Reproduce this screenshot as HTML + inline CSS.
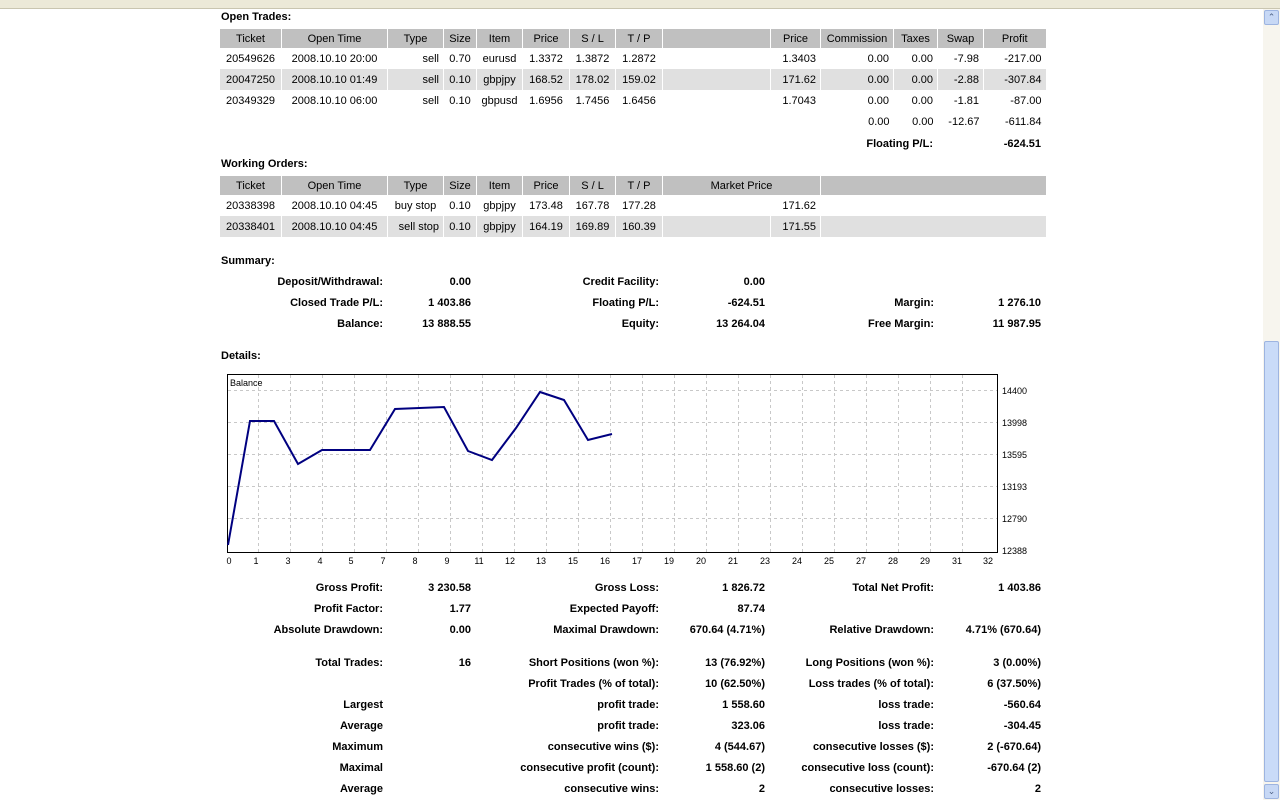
<!DOCTYPE html>
<html><head><meta charset="utf-8"><style>
body{margin:0;width:1280px;height:800px;background:#fff;font-family:"Liberation Sans",sans-serif;font-size:11px;color:#000;position:relative;overflow:hidden}
.topbar{position:absolute;left:0;top:0;width:1280px;height:8px;background:#ece9d8;border-bottom:1px solid #c9c5b0}
.sb{position:absolute;left:1263px;top:9px;width:17px;height:791px;background:#f7f5ee}
.btn{position:absolute;left:1264px;width:15px;height:15px;background:#c7d8f5;border:1px solid #9db4e0;border-radius:2px;box-sizing:border-box;color:#4d6185;font-size:9px;text-align:center;line-height:13px}
.thumb{position:absolute;left:1264px;top:341px;width:15px;height:441px;background:#c9dbf8;border:1px solid #9db4e0;box-sizing:border-box;border-radius:2px}
.w{position:absolute;left:0;top:1px;width:1280px;height:799px}
h4{position:absolute;margin:0;font-size:11px;font-weight:bold;left:221px}
table{position:absolute;left:219px;border-collapse:collapse;table-layout:fixed;font-size:11px}
td{padding:0 4px;height:21px;border-left:1px solid #fff;white-space:nowrap;overflow:hidden;padding-top:1px;box-sizing:border-box}
tr.h td{background:#c0c0c0;height:19px;text-align:center;border-left:1px solid #fff}
tr.g td{background:#e0e0e0}
.r{text-align:right}.c{text-align:center}
.s{position:absolute;font-weight:bold;white-space:nowrap;text-align:right}
</style></head><body>
<div class="topbar"></div>
<div class="w">
<h4 style="top:10px">Open Trades:</h4>
<table style="top:28px">
<colgroup><col style="width:62px"><col style="width:106px"><col style="width:56px"><col style="width:33px"><col style="width:46px"><col style="width:47px"><col style="width:46px"><col style="width:47px"><col style="width:108px"><col style="width:50px"><col style="width:73px"><col style="width:44px"><col style="width:46px"><col style="width:62px"></colgroup>
<tr class="h"><td>Ticket</td><td>Open Time</td><td>Type</td><td>Size</td><td>Item</td><td>Price</td><td>S / L</td><td>T / P</td><td></td><td>Price</td><td>Commission</td><td>Taxes</td><td>Swap</td><td>Profit</td></tr>
<tr><td class="c">20549626</td><td class="c">2008.10.10 20:00</td><td class="r">sell</td><td class="c">0.70</td><td class="c">eurusd</td><td class="c">1.3372</td><td class="c">1.3872</td><td class="c">1.2872</td><td></td><td class="r">1.3403</td><td class="r">0.00</td><td class="r">0.00</td><td class="r">-7.98</td><td class="r">-217.00</td></tr>
<tr class="g"><td class="c">20047250</td><td class="c">2008.10.10 01:49</td><td class="r">sell</td><td class="c">0.10</td><td class="c">gbpjpy</td><td class="c">168.52</td><td class="c">178.02</td><td class="c">159.02</td><td></td><td class="r">171.62</td><td class="r">0.00</td><td class="r">0.00</td><td class="r">-2.88</td><td class="r">-307.84</td></tr>
<tr><td class="c">20349329</td><td class="c">2008.10.10 06:00</td><td class="r">sell</td><td class="c">0.10</td><td class="c">gbpusd</td><td class="c">1.6956</td><td class="c">1.7456</td><td class="c">1.6456</td><td></td><td class="r">1.7043</td><td class="r">0.00</td><td class="r">0.00</td><td class="r">-1.81</td><td class="r">-87.00</td></tr>
<tr><td style="border:0"></td><td style="border:0"></td><td style="border:0"></td><td style="border:0"></td><td style="border:0"></td><td style="border:0"></td><td style="border:0"></td><td style="border:0"></td><td style="border:0"></td><td style="border:0"></td><td class="r" style="border:0">0.00</td><td class="r" style="border:0">0.00</td><td class="r" style="border:0">-12.67</td><td class="r" style="border:0">-611.84</td></tr>
</table>
<div class="s" style="right:347px;top:137px">Floating P/L:</div>
<div class="s" style="right:239px;top:137px">-624.51</div>

<h4 style="top:157px">Working Orders:</h4>
<table style="top:175px">
<colgroup><col style="width:62px"><col style="width:106px"><col style="width:56px"><col style="width:33px"><col style="width:46px"><col style="width:47px"><col style="width:46px"><col style="width:47px"><col style="width:108px"><col style="width:50px"><col style="width:225px"></colgroup>
<tr class="h"><td>Ticket</td><td>Open Time</td><td>Type</td><td>Size</td><td>Item</td><td>Price</td><td>S / L</td><td>T / P</td><td colspan="2">Market Price</td><td></td></tr>
<tr><td class="c">20338398</td><td class="c">2008.10.10 04:45</td><td class="c">buy stop</td><td class="c">0.10</td><td class="c">gbpjpy</td><td class="c">173.48</td><td class="c">167.78</td><td class="c">177.28</td><td></td><td class="r">171.62</td><td></td></tr>
<tr class="g"><td class="c">20338401</td><td class="c">2008.10.10 04:45</td><td class="r">sell stop</td><td class="c">0.10</td><td class="c">gbpjpy</td><td class="c">164.19</td><td class="c">169.89</td><td class="c">160.39</td><td></td><td class="r">171.55</td><td></td></tr>
</table>

<h4 style="top:254px">Summary:</h4>
<div class="s" style="right:897px;top:275px">Deposit/Withdrawal:</div><div class="s" style="right:809px;top:275px">0.00</div>
<div class="s" style="right:621px;top:275px">Credit Facility:</div><div class="s" style="right:515px;top:275px">0.00</div>
<div class="s" style="right:897px;top:296px">Closed Trade P/L:</div><div class="s" style="right:809px;top:296px">1 403.86</div>
<div class="s" style="right:621px;top:296px">Floating P/L:</div><div class="s" style="right:515px;top:296px">-624.51</div>
<div class="s" style="right:346px;top:296px">Margin:</div><div class="s" style="right:239px;top:296px">1 276.10</div>
<div class="s" style="right:897px;top:317px">Balance:</div><div class="s" style="right:809px;top:317px">13 888.55</div>
<div class="s" style="right:621px;top:317px">Equity:</div><div class="s" style="right:515px;top:317px">13 264.04</div>
<div class="s" style="right:346px;top:317px">Free Margin:</div><div class="s" style="right:239px;top:317px">11 987.95</div>

<h4 style="top:349px">Details:</h4>
</div>
<svg style="position:absolute;left:0;top:0" width="1280" height="800" font-family="Liberation Sans, sans-serif" font-size="9">
<rect x="227.5" y="374.5" width="770" height="178" fill="#fff" stroke="#000"/>
<g stroke="#c8c8c8" stroke-dasharray="3,3">
<line x1="228" x2="997" y1="390.5" y2="390.5"/><line x1="228" x2="997" y1="422.5" y2="422.5"/><line x1="228" x2="997" y1="454.5" y2="454.5"/><line x1="228" x2="997" y1="486.5" y2="486.5"/><line x1="228" x2="997" y1="518.5" y2="518.5"/>
<line x1="258.5" x2="258.5" y1="375" y2="552"/><line x1="290.5" x2="290.5" y1="375" y2="552"/><line x1="322.5" x2="322.5" y1="375" y2="552"/><line x1="354.5" x2="354.5" y1="375" y2="552"/><line x1="386.5" x2="386.5" y1="375" y2="552"/><line x1="418.5" x2="418.5" y1="375" y2="552"/><line x1="450.5" x2="450.5" y1="375" y2="552"/><line x1="482.5" x2="482.5" y1="375" y2="552"/><line x1="514.5" x2="514.5" y1="375" y2="552"/><line x1="546.5" x2="546.5" y1="375" y2="552"/><line x1="578.5" x2="578.5" y1="375" y2="552"/><line x1="610.5" x2="610.5" y1="375" y2="552"/><line x1="642.5" x2="642.5" y1="375" y2="552"/><line x1="674.5" x2="674.5" y1="375" y2="552"/><line x1="706.5" x2="706.5" y1="375" y2="552"/><line x1="738.5" x2="738.5" y1="375" y2="552"/><line x1="770.5" x2="770.5" y1="375" y2="552"/><line x1="802.5" x2="802.5" y1="375" y2="552"/><line x1="834.5" x2="834.5" y1="375" y2="552"/><line x1="866.5" x2="866.5" y1="375" y2="552"/><line x1="898.5" x2="898.5" y1="375" y2="552"/><line x1="930.5" x2="930.5" y1="375" y2="552"/><line x1="962.5" x2="962.5" y1="375" y2="552"/>
</g>
<text x="230" y="386">Balance</text>
<polyline fill="none" stroke="#000080" stroke-width="2" points="228,545 250,421 274,421 298,464 322,450 370,450 395,409 444,407 468,451 492,460 516,428 540,392 564,400 588,440 612,434"/>
<g>
<text x="1002" y="394">14400</text><text x="1002" y="426">13998</text><text x="1002" y="458">13595</text><text x="1002" y="490">13193</text><text x="1002" y="522">12790</text><text x="1002" y="554">12388</text>
</g>
<g text-anchor="middle">
<text x="229" y="564">0</text><text x="256" y="564">1</text><text x="288" y="564">3</text><text x="320" y="564">4</text><text x="351" y="564">5</text><text x="383" y="564">7</text><text x="415" y="564">8</text><text x="447" y="564">9</text><text x="479" y="564">11</text><text x="510" y="564">12</text><text x="541" y="564">13</text><text x="573" y="564">15</text><text x="605" y="564">16</text><text x="637" y="564">17</text><text x="669" y="564">19</text><text x="701" y="564">20</text><text x="733" y="564">21</text><text x="765" y="564">23</text><text x="797" y="564">24</text><text x="829" y="564">25</text><text x="861" y="564">27</text><text x="893" y="564">28</text><text x="925" y="564">29</text><text x="957" y="564">31</text><text x="988" y="564">32</text>
</g>
</svg>
<div class="w">
<div class="s" style="right:897px;top:581px">Gross Profit:</div><div class="s" style="right:809px;top:581px">3 230.58</div>
<div class="s" style="right:621px;top:581px">Gross Loss:</div><div class="s" style="right:515px;top:581px">1 826.72</div>
<div class="s" style="right:346px;top:581px">Total Net Profit:</div><div class="s" style="right:239px;top:581px">1 403.86</div>
<div class="s" style="right:897px;top:602px">Profit Factor:</div><div class="s" style="right:809px;top:602px">1.77</div>
<div class="s" style="right:621px;top:602px">Expected Payoff:</div><div class="s" style="right:515px;top:602px">87.74</div>
<div class="s" style="right:897px;top:623px">Absolute Drawdown:</div><div class="s" style="right:809px;top:623px">0.00</div>
<div class="s" style="right:621px;top:623px">Maximal Drawdown:</div><div class="s" style="right:515px;top:623px">670.64 (4.71%)</div>
<div class="s" style="right:346px;top:623px">Relative Drawdown:</div><div class="s" style="right:239px;top:623px">4.71% (670.64)</div>
<div class="s" style="right:897px;top:656px">Total Trades:</div><div class="s" style="right:809px;top:656px">16</div>
<div class="s" style="right:621px;top:656px">Short Positions (won %):</div><div class="s" style="right:515px;top:656px">13 (76.92%)</div>
<div class="s" style="right:346px;top:656px">Long Positions (won %):</div><div class="s" style="right:239px;top:656px">3 (0.00%)</div>
<div class="s" style="right:621px;top:677px">Profit Trades (% of total):</div><div class="s" style="right:515px;top:677px">10 (62.50%)</div>
<div class="s" style="right:346px;top:677px">Loss trades (% of total):</div><div class="s" style="right:239px;top:677px">6 (37.50%)</div>
<div class="s" style="right:897px;top:698px">Largest</div>
<div class="s" style="right:621px;top:698px">profit trade:</div><div class="s" style="right:515px;top:698px">1 558.60</div>
<div class="s" style="right:346px;top:698px">loss trade:</div><div class="s" style="right:239px;top:698px">-560.64</div>
<div class="s" style="right:897px;top:719px">Average</div>
<div class="s" style="right:621px;top:719px">profit trade:</div><div class="s" style="right:515px;top:719px">323.06</div>
<div class="s" style="right:346px;top:719px">loss trade:</div><div class="s" style="right:239px;top:719px">-304.45</div>
<div class="s" style="right:897px;top:740px">Maximum</div>
<div class="s" style="right:621px;top:740px">consecutive wins ($):</div><div class="s" style="right:515px;top:740px">4 (544.67)</div>
<div class="s" style="right:346px;top:740px">consecutive losses ($):</div><div class="s" style="right:239px;top:740px">2 (-670.64)</div>
<div class="s" style="right:897px;top:761px">Maximal</div>
<div class="s" style="right:621px;top:761px">consecutive profit (count):</div><div class="s" style="right:515px;top:761px">1 558.60 (2)</div>
<div class="s" style="right:346px;top:761px">consecutive loss (count):</div><div class="s" style="right:239px;top:761px">-670.64 (2)</div>
<div class="s" style="right:897px;top:782px">Average</div>
<div class="s" style="right:621px;top:782px">consecutive wins:</div><div class="s" style="right:515px;top:782px">2</div>
<div class="s" style="right:346px;top:782px">consecutive losses:</div><div class="s" style="right:239px;top:782px">2</div>
</div>
<div class="sb"></div>
<div class="btn" style="top:10px">&#8963;</div>
<div class="thumb"></div>
<div class="btn" style="top:784px">&#8964;</div>
</body></html>
